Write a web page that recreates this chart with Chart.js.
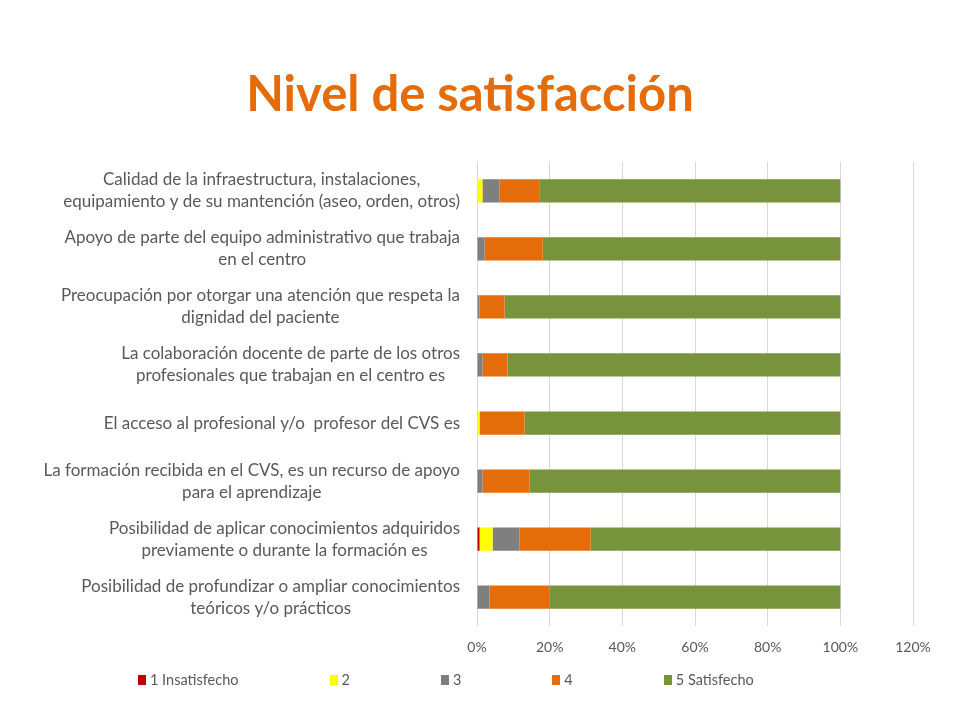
<!DOCTYPE html>
<html>
<head>
<meta charset="utf-8">
<script src="https://cdn.jsdelivr.net/npm/chart.js@4"></script>
<style>
  body { margin: 0; background: #fff; }
  #wrap { position: relative; width: 960px; height: 720px; }
  #legend { position: absolute; left: 138px; top: 671px; display: flex; font: 14.5px Lato, sans-serif; color: #595959; }
  #legend .item { display: flex; align-items: center; margin-right: 91px; white-space: nowrap; }
  #legend .box { width: 8px; height: 10px; margin-right: 4px; }
</style>
</head>
<body>
<div id="wrap">
  <canvas id="chart" width="960" height="720"></canvas>
  <div id="legend"></div>
</div>
<script>
// categories, top to bottom (each entry = lines of the label)
const categories = [
  ["Calidad de la infraestructura, instalaciones,", "equipamiento y de su mantención (aseo, orden, otros)"],
  ["Apoyo de parte del equipo administrativo que trabaja", "en el centro"],
  ["Preocupación por otorgar una atención que respeta la", "dignidad del paciente"],
  ["La colaboración docente de parte de los otros", "profesionales que trabajan en el centro es"],
  ["El acceso al profesional y/o  profesor del CVS es"],
  ["La formación recibida en el CVS, es un recurso de apoyo", "para el aprendizaje"],
  ["Posibilidad de aplicar conocimientos adquiridos", "previamente o durante la formación es"],
  ["Posibilidad de profundizar o ampliar conocimientos", "teóricos y/o prácticos"]
]

const seriesNames = ["1 Insatisfecho", "2", "3", "4", "5 Satisfecho"]
const seriesColors = ["#C00000", "#FFFF00", "#7F7F7F", "#E46C0A", "#77933C"]

// percentages
const nivel1 = [0, 0, 0, 0, 0, 0, 0.7, 0]
const nivel2 = [1.5, 0, 0, 0, 0.7, 0, 3.6, 0]
const nivel3 = [4.7, 2.1, 0.7, 1.5, 0, 1.5, 7.4, 3.4]
const nivel4 = [11.1, 16, 6.9, 6.9, 12.4, 13, 19.6, 16.6]
const nivel5 = [82.7, 81.9, 92.4, 91.6, 86.9, 85.5, 68.7, 80]

const xTicks = [0, 20, 40, 60, 80, 100, 120]

const seriesValues = [nivel1, nivel2, nivel3, nivel4, nivel5]
const labelFont = '17px Lato'
const textColor = '#595959'

// excel style category labels: block right aligned, lines centered in the block
const categoryLabels = {
  id: 'categoryLabels',
  afterDraw(chart){
    const scale = chart.scales.y
    const ctx = chart.ctx
    ctx.save()
    ctx.font = labelFont
    ctx.fillStyle = textColor
    ctx.textAlign = 'center'
    ctx.textBaseline = 'middle'
    categories.forEach((lines, i) => {
      const py = scale.getPixelForValue(i)
      const widest = Math.max(...lines.map(l => ctx.measureText(l).width))
      const cx = scale.right - 17 - widest / 2
      lines.forEach((line, k) => {
        ctx.fillText(line, cx, py + (k - (lines.length - 1) / 2) * 22)
      })
    })
    ctx.restore()
  }
}

const datasets = seriesNames.map((name, i) => ({
  label: name,
  data: seriesValues[i],
  backgroundColor: seriesColors[i],
  barPercentage: 0.4,
  categoryPercentage: 1
}))

new Chart(document.getElementById('chart'), {
  type: 'bar',
  data: { labels: categories.map(c => c.join(' ')), datasets: datasets },
  options: {
    indexAxis: 'y',
    responsive: false,
    animation: false,
    devicePixelRatio: 1,
    layout: { padding: { left: 27, right: 47, top: 0, bottom: 51 } },
    plugins: {
      legend: { display: false },
      tooltip: { enabled: false },
      title: {
        display: true,
        text: 'Nivel de satisfacción',
        color: '#E46C0A',
        font: { family: 'Lato', size: 49, weight: 'bold' },
        padding: { top: 66, bottom: 37 }
      }
    },
    scales: {
      x: {
        stacked: true,
        min: 0,
        max: 120,
        afterBuildTicks: scale => { scale.ticks = xTicks.map(v => ({ value: v })) },
        ticks: {
          color: textColor,
          font: { family: 'Lato', size: 14 },
          padding: 13,
          callback: v => v + '%'
        },
        grid: { color: '#D9D9D9', drawTicks: false },
        border: { display: false }
      },
      y: {
        stacked: true,
        ticks: { display: false },
        grid: { display: false },
        border: { display: false },
        afterFit: scale => { scale.width = 450 }
      }
    }
  },
  plugins: [categoryLabels]
})

const legend = document.getElementById('legend')
seriesNames.forEach((name, i) => {
  const item = document.createElement('div')
  item.className = 'item'
  item.innerHTML = `<span class="box" style="background:${seriesColors[i]}"></span><span>${name}</span>`
  legend.appendChild(item)
})
</script>
</body>
</html>
